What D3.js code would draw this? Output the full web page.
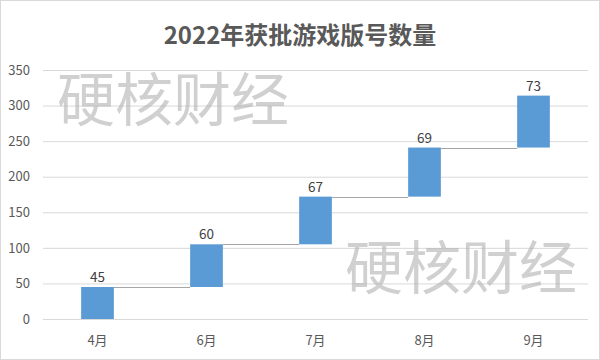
<!DOCTYPE html>
<html><head><meta charset="utf-8">
<script src="https://cdn.jsdelivr.net/npm/d3@7/dist/d3.min.js"></script>
<style>body{margin:0;background:#fff;} svg{display:block;}</style>
</head><body>
<svg id="c" width="600" height="360"></svg>
<script>
const categories = ["4月","6月","7月","8月","9月"];
const values = [45, 60, 67, 69, 73];
const yTicks = [0,50,100,150,200,250,300,350];
const title = "2022年获批游戏版号数量";
const watermark = "硬核财经";

const svg = d3.select("#c");
const font = "'Noto Sans CJK SC','Noto Sans',sans-serif";
const W = 600, H = 360;
const m = {left: 43, right: 12, top: 70, bottom: 41};

svg.append("rect").attr("x",0.5).attr("y",0.5).attr("width",W-1).attr("height",H-1)
  .attr("fill","#fff").attr("stroke","#d9d9d9");

const x = d3.scaleBand().domain(categories).range([m.left, W - m.right]).paddingInner(0.7).paddingOuter(0.35);
const y = d3.scaleLinear().domain([0,350]).range([H - m.bottom, m.top]);

let acc = 0;
const rows = categories.map((c,i)=>{ const start = acc; acc += values[i]; return {c, v: values[i], start, end: acc}; });

const ya = d3.axisLeft(y).tickValues(yTicks).tickSize(-(W - m.left - m.right)).tickPadding(10);
const gy = svg.append("g").attr("transform",`translate(${m.left},0)`).call(ya);
gy.select(".domain").remove();
gy.selectAll(".tick line").attr("stroke","#d9d9d9").attr("stroke-width",1);
gy.selectAll(".tick text").attr("fill","#595959").attr("font-size",13).attr("font-family",font).attr("x",-13);

const xa = d3.axisBottom(x).tickSize(0).tickPadding(17);
const gx = svg.append("g").attr("transform",`translate(0,${H - m.bottom})`).call(xa);
gx.select(".domain").remove();
gx.selectAll(".tick text").attr("fill","#595959").attr("font-size",13).attr("font-family",font);

svg.append("g").selectAll("line").data(rows.slice(0,-1)).join("line")
  .attr("x1",(d)=>x(d.c)+x.bandwidth())
  .attr("x2",(d,i)=>x(rows[i+1].c))
  .attr("y1",d=>Math.round(y(d.end))+0.5).attr("y2",d=>Math.round(y(d.end))+0.5)
  .attr("stroke","#a6a6a6").attr("stroke-width",1);

svg.append("g").selectAll("rect").data(rows).join("rect")
  .attr("x",d=>x(d.c)).attr("width",x.bandwidth())
  .attr("y",d=>y(d.end)).attr("height",d=>y(d.start)-y(d.end))
  .attr("fill","#5b9bd5");

svg.append("g").selectAll("text").data(rows).join("text")
  .attr("x",d=>x(d.c)+x.bandwidth()/2).attr("y",d=>y(d.end)-5)
  .attr("text-anchor","middle").attr("font-size",13.5).attr("font-family",font).attr("fill","#404040")
  .text(d=>d.v);

svg.append("text").attr("x",300).attr("y",44).attr("text-anchor","middle")
  .attr("font-size",24).attr("font-weight","bold").attr("font-family",font).attr("fill","#595959")
  .text(title);

const wm = [[57,121],[345,289]];
svg.append("g").selectAll("text").data(wm).join("text")
  .attr("x",d=>d[0]).attr("y",d=>d[1])
  .attr("font-size",58).attr("font-family",font).attr("fill","#b0b0b0").attr("fill-opacity",0.6)
  .text(watermark);
</script>
</body></html>
